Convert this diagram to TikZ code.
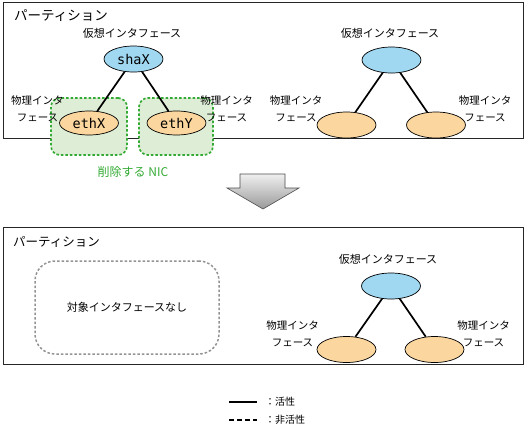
\documentclass[tikz,border=0pt]{standalone}
\usepackage{fontspec}
\setmainfont{Noto Sans CJK JP}
\newfontfamily\ifacefont{DejaVu Sans Mono}
\usetikzlibrary{shapes,arrows,calc,positioning}

\definecolor{vblue}{RGB}{160,216,242}
\definecolor{porange}{RGB}{251,214,158}
\definecolor{delgreen}{RGB}{51,170,51}
\definecolor{delfill}{RGB}{222,237,214}

\begin{document}
\begin{tikzpicture}[x=1pt, y=-1pt,
  partbox/.style={draw=black!85, line width=0.8pt, inner sep=0pt},
  virt/.style={ellipse, draw, fill=vblue, line width=0.7pt, minimum width=59pt, minimum height=26pt, inner sep=0pt, font=\ifacefont\fontsize{13.5}{14}\selectfont},
  phys/.style={virt, fill=porange},
  delbox/.style={draw=delgreen, fill=delfill, dashed, dash pattern=on 2.5pt off 2pt, line width=1.7pt, rounded corners=9pt, minimum height=57pt, inner sep=0pt},
  physlbl/.style={align=center, inner sep=0pt, font=\fontsize{10.5}{17}\selectfont},
  virtlbl/.style={inner sep=0pt, font=\fontsize{11}{13}\selectfont},
  partlbl/.style={anchor=west, inner sep=0pt},
  link/.style={line width=1.7pt},
  legendtxt/.style={anchor=west, inner sep=0pt, font=\fontsize{10}{12}\selectfont}]

\useasboundingbox (0,0) rectangle (528,426);

%partition before
\node [partbox, anchor=north west, minimum width=520pt, minimum height=136pt] (part1) at (3,2) {};
\node [partlbl, font=\fontsize{13.5}{15}\selectfont] (part1lbl) at (14,16) {パーティション};

\node [delbox, minimum width=76pt] (del1) at (89,126.5) {};
\node [delbox, minimum width=74pt] (del2) at (176,126.5) {};
\node [text=delgreen, inner sep=0pt, font=\fontsize{12}{14}\selectfont] (dellbl) at (133,172) {削除する NIC};

\node [virt] (shaX) at (133.5,59) {shaX};
\node [phys, minimum height=24pt] (ethX) at (89,123) {ethX};
\node [phys, minimum height=24pt] (ethY) at (176.5,123) {ethY};
\node [virtlbl] (shaXlbl) at (132,33) {仮想インタフェース};
\node [physlbl] (ethXlbl) at (37.5,108.5) {物理インタ\\フェース};
\node [physlbl] (ethYlbl) at (226.5,108.5) {物理インタ\\フェース};
\draw [link] (shaX) -- (ethX);
\draw [link] (shaX) -- (ethY);

\node [virt] (virt2) at (391.5,60) {};
\node [phys] (phys2a) at (346.5,125) {};
\node [phys] (phys2b) at (436,125) {};
\node [virtlbl] (virt2lbl) at (390,33) {仮想インタフェース};
\node [physlbl] (phys2albl) at (296,108.5) {物理インタ\\フェース};
\node [physlbl] (phys2blbl) at (485,108.5) {物理インタ\\フェース};
\draw [link] (virt2) -- (phys2a);
\draw [link] (virt2) -- (phys2b);

%arrow
\shade [top color=gray!12, bottom color=gray!80, draw=black!70, line width=0.6pt]
  (240,174) -- (285,174) -- (285,188) -- (299,188) -- (263,209) -- (227,188) -- (240,188) -- cycle;

%partition after
\node [partbox, anchor=north west, minimum width=520pt, minimum height=137pt] (part2) at (3,227) {};
\node [partlbl, font=\fontsize{12.5}{14}\selectfont] (part2lbl) at (13,242) {パーティション};

\node [draw=gray!85, dashed, dash pattern=on 2.5pt off 2pt, line width=1.5pt, rounded corners=20pt, minimum width=184pt, minimum height=93pt, font=\fontsize{11}{13}\selectfont] (none) at (127,307.5) {対象インタフェースなし};

\node [virt] (virt3) at (391,286) {};
\node [phys] (phys3a) at (346.5,349.5) {};
\node [phys] (phys3b) at (434.5,349.5) {};
\node [virtlbl] (virt3lbl) at (388,259) {仮想インタフェース};
\node [physlbl] (phys3albl) at (292.5,333.5) {物理インタ\\フェース};
\node [physlbl] (phys3blbl) at (483.5,333.5) {物理インタ\\フェース};
\draw [link] (virt3) -- (phys3a);
\draw [link] (virt3) -- (phys3b);

%legend
\coordinate (solidA) at (229,402);
\coordinate (solidB) at (257,402);
\coordinate (dashA) at (229,420);
\coordinate (dashB) at (257,420);
\draw [line width=1.4pt] (solidA) -- (solidB);
\draw [line width=1.4pt, dash pattern=on 5pt off 3pt] (dashA) -- (dashB);
\node [legendtxt] (activelbl) at (265,402) {：活性};
\node [legendtxt] (inactivelbl) at (265,420) {：非活性};

\end{tikzpicture}
\end{document}
